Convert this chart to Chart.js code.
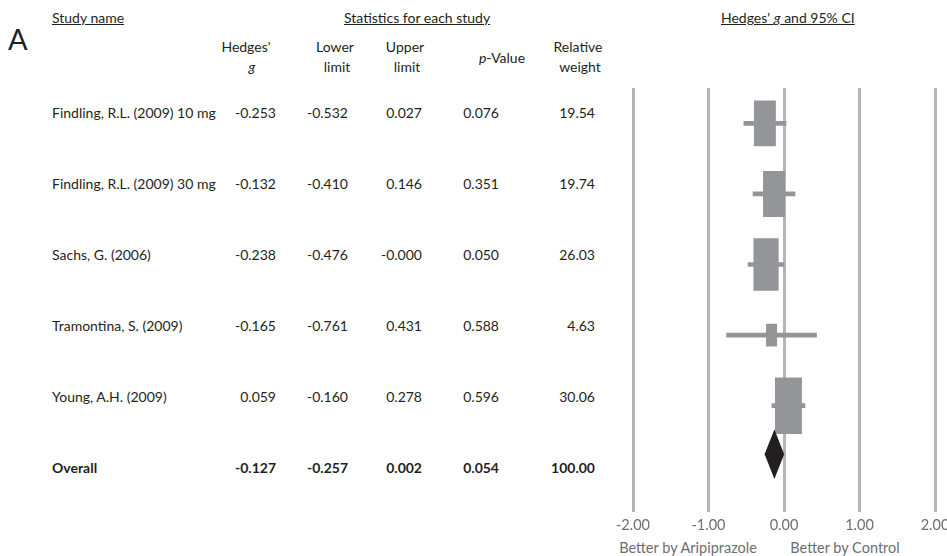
<!DOCTYPE html>
<html>
<head>
<meta charset="utf-8">
<script src="https://cdn.jsdelivr.net/npm/chart.js@4.4.0/dist/chart.umd.min.js"></script>
<style>
    html, body { margin: 0; padding: 0; background: #fff; overflow: hidden; }
    body { width: 947px; height: 556px; position: relative; font-family: Lato, "Open Sans", sans-serif; color: #231f20; }
    .t { position: absolute; font-size: 14px; line-height: 16px; white-space: nowrap; }
    .r { text-align: right; width: 90px; }
    .c { text-align: center; width: 120px; }
    .u { text-decoration: underline; }
    .b { font-weight: 700; }
    .gray { color: #6d6e71; font-size: 14.5px; }
    #chartBox { position: absolute; left: 600px; top: 0; width: 380px; height: 556px; }
</style>
</head>
<body>
<div class="t" style="left:8px;top:22px;font-size:29px;line-height:34px;">A</div>
<div class="t u" style="left:52px;top:10px;">Study name</div>
<div class="t c u" style="left:344px;top:10px;">Statistics for each study</div>
<div class="t c u" style="left:721px;top:10px;">Hedges' <i>g</i> and 95% CI</div>

<div id="table"></div>
<div class="t c gray" style="left:618px;top:540px;width:140px;">Better by Aripiprazole</div>
<div class="t c gray" style="left:775px;top:540px;width:140px;">Better by Control</div>

<div id="chartBox"><canvas id="forestChart"></canvas></div>

<script>
const studies = ['Findling, R.L. (2009) 10 mg', 'Findling, R.L. (2009) 30 mg', 'Sachs, G. (2006)', 'Tramontina, S. (2009)', 'Young, A.H. (2009)'];
const hedgesG = [-0.253, -0.132, -0.238, -0.165, 0.059];
const lowerLimit = [-0.532, -0.410, -0.476, -0.761, -0.160];
const upperLimit = [0.027, 0.146, -0.0004, 0.431, 0.278];
const pValue = [0.076, 0.351, 0.050, 0.588, 0.596];
const relWeight = [19.54, 19.74, 26.03, 4.63, 30.06];

const overall = { g: -0.127, lower: -0.257, upper: 0.002, p: 0.054, weight: 100.00 };
const xTicks = [-2, -1, 0, 1, 2];

const rowLabels = [...studies, 'Overall'];
const GREY = '#939598';

// ---- table on the left ----
const colRight = [276, 348, 422, 499, 595];
const headers = [
    { x: 246, y: 39, html: "Hedges'" }, { x: 252, y: 59, html: '<i>g</i>' },
    { x: 335, y: 39, html: 'Lower' }, { x: 337, y: 59, html: 'limit' },
    { x: 405, y: 39, html: 'Upper' }, { x: 407, y: 59, html: 'limit' },
    { x: 502, y: 50, html: '<i>p</i>-Value' },
    { x: 578, y: 39, html: 'Relative' }, { x: 580, y: 59, html: 'weight' },
];
let html = headers.map(h => `<div class="t c" style="left:${h.x - 60}px;top:${h.y}px">${h.html}</div>`).join('');

const rows = studies.map((s, i) => ({
    name: s, vals: [hedgesG[i].toFixed(3), lowerLimit[i].toFixed(3), upperLimit[i].toFixed(3), pValue[i].toFixed(3), relWeight[i].toFixed(2)], bold: false
}));
rows.push({ name: 'Overall', vals: [overall.g.toFixed(3), overall.lower.toFixed(3), overall.upper.toFixed(3), overall.p.toFixed(3), overall.weight.toFixed(2)], bold: true });

rows.forEach((r, i) => {
    const top = 105 + i * 71;
    const b = r.bold ? ' b' : '';
    html += `<div class="t${b}" style="left:52px;top:${top}px">${r.name}</div>`;
    r.vals.forEach((v, j) => {
        html += `<div class="t r${b}" style="left:${colRight[j] - 90}px;top:${top}px">${v}</div>`;
    });
});
document.getElementById('table').innerHTML = html;

// ---- forest plot ----
const ciData = rowLabels.map((_, i) => i < studies.length ? [lowerLimit[i], upperLimit[i]] : null);

// box area proportional to weight
const boxSets = studies.map((s, i) => {
    const side = Math.sqrt(relWeight[i]);
    const half = 0.0318 * side;
    return {
        label: s,
        data: rowLabels.map((_, j) => j === i ? [hedgesG[i] - half, hedgesG[i] + half] : null),
        backgroundColor: GREY,
        borderWidth: 0,
        barThickness: 10.2 * side,
        grouped: false,
        order: 2,
    };
});

const diamond = [
    { x: overall.lower, y: 5 },
    { x: overall.g, y: 5 - 0.4 },
    { x: overall.upper, y: 5 },
    { x: overall.g, y: 5 + 0.4 },
    { x: overall.lower, y: 5 },
];

new Chart(document.getElementById('forestChart'), {
    type: 'bar',
    data: {
        labels: rowLabels,
        datasets: [
            { label: 'CI', data: ciData, backgroundColor: GREY, borderWidth: 0, barThickness: 4, grouped: false, order: 3 },
            ...boxSets,
            {
                type: 'line', label: 'Overall', data: diamond, yAxisID: 'y2',
                borderWidth: 0, borderColor: '#231f20', backgroundColor: '#231f20',
                fill: 'shape', pointRadius: 0, tension: 0, order: 1,
            },
        ]
    },
    options: {
        indexAxis: 'y',
        responsive: true, maintainAspectRatio: false,
        animation: false,
        layout: { padding: { left: 33, right: 45, top: 88, bottom: 17 } },
        plugins: { legend: { display: false }, tooltip: { enabled: false } },
        scales: {
            x: {
                type: 'linear', min: -2, max: 2,
                afterBuildTicks: axis => { axis.ticks = xTicks.map(v => ({ value: v })); },
                grid: { color: '#b5b5b8', lineWidth: 3, drawTicks: false },
                border: { display: false },
                ticks: { color: '#6d6e71', font: { family: 'Lato', size: 14.5 }, padding: 5, callback: v => v.toFixed(2) }
            },
            y: { display: false },
            y2: { type: 'linear', display: false, min: -0.5, max: 5.5, reverse: true }
        }
    }
});
</script>
</body>
</html>
